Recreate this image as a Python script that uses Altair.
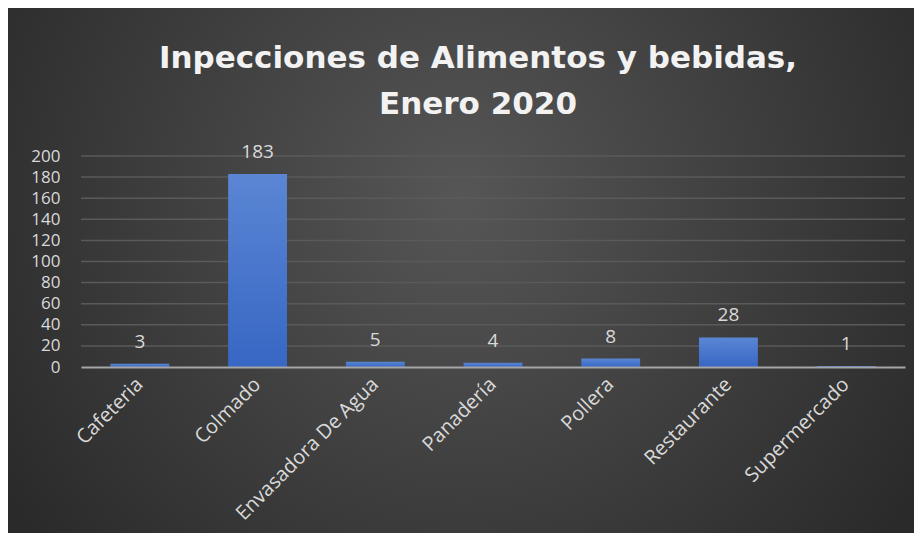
import altair as alt
import pandas as pd

categories = ["Cafeteria", "Colmado", "Envasadora De Agua", "Panadería", "Pollera", "Restaurante", "Supermercado"]
values = [3, 183, 5, 4, 8, 28, 1]
y_ticks = [0, 20, 40, 60, 80, 100, 120, 140, 160, 180, 200]
title_lines = ["Inpecciones de Alimentos y bebidas,", "Enero 2020"]

df = pd.DataFrame({"categoria": categories, "valor": values})
grid_df = pd.DataFrame({"valor": [t for t in y_ticks if t > 0]})

W, H = 824, 211
PAD = {"left": 73, "top": 148, "right": 9, "bottom": 166}
FONT = "Open Sans"
LABEL_COLOR = "#d9d9d9"

x_axis = alt.Axis(title=None, labelAngle=315, labelAlign="right", labelBaseline="middle",
                  labelFontSize=20, labelFont=FONT, labelColor=LABEL_COLOR,
                  labelPadding=14, ticks=False, domainColor="#a6a6a6", domainWidth=2,
                  grid=False, zindex=1, labelLimit=300)
y_axis = alt.Axis(title=None, values=y_ticks, labelFontSize=17, labelFont=FONT,
                  labelColor=LABEL_COLOR, labelPadding=21, ticks=False, domain=False,
                  grid=False, zindex=1)
y_scale = alt.Scale(domain=[0, 200], nice=False)
x_scale = alt.Scale(paddingInner=0.5, paddingOuter=0.25)

bg = alt.Chart(alt.Data(values=[{"a": 1}])).mark_rect(
    color={"gradient": "radial",
           "x1": 0.5, "y1": 0.42, "r1": 0,
           "x2": 0.5, "y2": 0.42, "r2": 0.6,
           "stops": [{"offset": 0, "color": "#565656"},
                     {"offset": 1, "color": "#2a2a2a"}]}
).encode(x=alt.value(-PAD["left"]), x2=alt.value(W + PAD["right"]),
         y=alt.value(-PAD["top"]), y2=alt.value(H + PAD["bottom"]))

grid = alt.Chart(grid_df).mark_rule(color="#5a5a5a", strokeWidth=1.5).encode(
    y=alt.Y("valor:Q", scale=y_scale, axis=y_axis)
)

bars = alt.Chart(df).mark_bar(
    color={"gradient": "linear", "x1": 0, "y1": 0, "x2": 0, "y2": 1,
           "stops": [{"offset": 0, "color": "#5b86d4"},
                     {"offset": 1, "color": "#3767c4"}]}
).encode(x=alt.X("categoria:N", sort=categories, scale=x_scale, axis=x_axis),
         y=alt.Y("valor:Q", scale=y_scale, axis=y_axis))

labels = alt.Chart(df).mark_text(
    dy=-16, baseline="alphabetic", fontSize=19, font=FONT, color=LABEL_COLOR
).encode(x=alt.X("categoria:N", sort=categories, scale=x_scale, axis=x_axis),
         y=alt.Y("valor:Q", scale=y_scale, axis=y_axis), text="valor:Q")

chart = alt.layer(bg, grid, bars, labels).properties(
    width=W, height=H,
    padding=PAD,
    autosize=alt.AutoSizeParams(type="none"),
    title=alt.TitleParams(text=title_lines, fontSize=31, font="DejaVu Sans", fontWeight="bold",
                          color="#f2f2f2", anchor="middle", baseline="alphabetic",
                          lineHeight=46, offset=0, dy=137, dx=-15),
    background="white",
).configure_view(stroke=None)

chart.save("out.html", embed_options={"renderer": "svg", "actions": False})
